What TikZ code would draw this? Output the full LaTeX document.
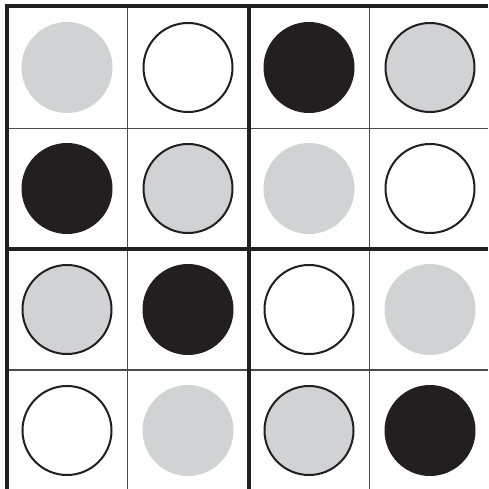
\documentclass[tikz,border=0pt]{standalone}
\usepackage{xcolor}
\definecolor{dotgray}{RGB}{209,210,212}
\definecolor{dotblack}{RGB}{35,31,32}
\definecolor{gridgray}{RGB}{75,75,75}
\usepackage{tikz}
\usetikzlibrary{positioning}

\begin{document}
\begin{tikzpicture}[
  x=1pt,y=-1pt,
  thin line/.style={draw=gridgray,line width=1.4pt},
  thick line/.style={draw=dotblack,line width=4pt},
  dot/.style={circle,inner sep=0pt,outer sep=0pt,minimum size=91pt},
  graydot/.style={dot,fill=dotgray},
  blackdot/.style={dot,fill=dotblack},
  whiteoutl/.style={dot,minimum size=89pt,outer sep=1pt,draw=dotblack,line width=2pt,fill=white},
  grayoutl/.style={dot,minimum size=89pt,outer sep=1pt,draw=dotblack,line width=2pt,fill=dotgray}
]
\useasboundingbox (0,0) rectangle (488,489);
% grid corners
\coordinate (tl) at (6.5,6.5);
\coordinate (tr) at (488,6.5);
\coordinate (bl) at (6.5,489);
% thin grid lines
\draw[thin line] (127.5,6.5) -- (127.5,489);
\draw[thin line] (369.5,6.5) -- (369.5,489);
\draw[thin line] (6.5,128.5) -- (488,128.5);
\draw[thin line] (6.5,370) -- (488,370);
% thick block lines
\draw[thick line] (248.5,4.5) -- (248.5,489);
\draw[thick line] (4.5,249) -- (488,249);
\draw[thick line] (4.5,6.5) -- (tr);
\draw[thick line] (6.5,4.5) -- (bl);
% row 1
\node[graydot]  (a1) at (67,67.5) {};
\node[whiteoutl,right=30pt of a1] (a2) {};
\node[blackdot,right=30pt of a2]  (a3) {};
\node[grayoutl,right=30pt of a3]  (a4) {};
% row 2
\node[blackdot,below=30pt of a1]  (b1) {};
\node[grayoutl,right=30pt of b1]  (b2) {};
\node[graydot,right=30pt of b2]   (b3) {};
\node[whiteoutl,right=30pt of b3] (b4) {};
% row 3
\node[grayoutl,below=30pt of b1]  (c1) {};
\node[blackdot,right=30pt of c1]  (c2) {};
\node[whiteoutl,right=30pt of c2] (c3) {};
\node[graydot,right=30pt of c3]   (c4) {};
% row 4
\node[whiteoutl,below=30pt of c1] (d1) {};
\node[graydot,right=30pt of d1]   (d2) {};
\node[grayoutl,right=30pt of d2]  (d3) {};
\node[blackdot,right=30pt of d3]  (d4) {};
\end{tikzpicture}
\end{document}
